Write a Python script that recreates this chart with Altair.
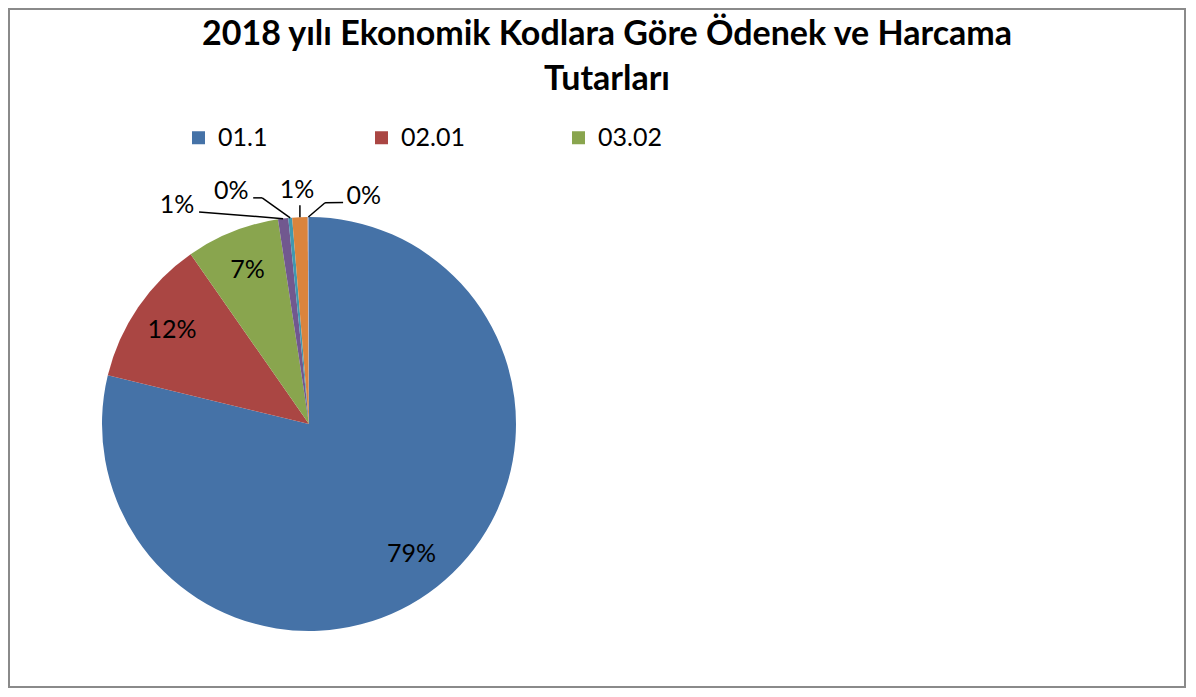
import altair as alt
import pandas as pd

# ---- data ----
codes = ["01.1", "02.01", "03.02", "03.03", "03.05", "03.07", "03.08"]
shares = [78.9, 11.55, 7.3, 0.8, 0.3, 1.2, 0.1]
colors = ["#4572A7", "#AA4643", "#89A54E", "#71588F", "#4198AF", "#DB843D", "#93A9CF"]
legend_codes = ["01.1", "02.01", "03.02"]
title_lines = ["2018 yılı Ekonomik Kodlara Göre Ödenek ve Harcama", "Tutarları"]

df = pd.DataFrame({"code": codes, "value": shares, "idx": list(range(len(codes)))})

# ---- layout / style ----
W, H = 1176, 678
CX, CY, R = 300, 415, 207
FONT = "Lato"
LFS = 25

base = alt.Chart(df).transform_joinaggregate(
    total="sum(value)"
).transform_window(
    cum="sum(value)", sort=[alt.SortField("idx")], frame=[None, 0]
).transform_calculate(
    pct="datum.value / datum.total",
    mid="(datum.cum - datum.value / 2) / datum.total * 2 * PI",
).transform_calculate(
    ex=f"{CX} + {R} * sin(datum.mid)",
    ey=f"{CY} - {R} * cos(datum.mid)",
)

theta = alt.Theta("value:Q", stack=True)
order = alt.Order("idx:Q", sort="ascending")

pie = base.mark_arc(radius=R, stroke=None).encode(
    theta=theta,
    order=order,
    x=alt.value(CX),
    y=alt.value(CY),
    color=alt.Color(
        "code:N",
        scale=alt.Scale(domain=codes, range=colors),
        legend=alt.Legend(
            values=legend_codes,
            orient="none",
            legendX=177,
            legendY=116,
            direction="horizontal",
            columns=3,
            columnPadding=101,
            title=None,
            symbolType="square",
            symbolSize=169,
            symbolStrokeWidth=0,
            labelFont=FONT,
            labelFontSize=LFS,
            labelColor="#000000",
            labelOffset=7,
        ),
    ),
)

inside = base.transform_filter("datum.idx < 3").mark_text(
    radius=166, font=FONT, fontSize=LFS, color="#000000", baseline="middle", align="center"
).encode(
    theta=theta,
    order=order,
    x=alt.value(CX),
    y=alt.value(CY),
    text=alt.Text("pct:Q", format=".0%"),
)

# leader-line geometry for the thin slices (offsets from slice edge, in px)
leaders = {
    3: dict(a=(-84, -6.6), b=(-84, -6.6), l=(-106, -13.5)),
    4: dict(a=(-28, -20), b=(-37, -20), l=(-59, -26.5)),
    5: dict(a=(0, -12), b=(0, -12), l=(-3, -27)),
    6: dict(a=(16.7, -14.2), b=(34.7, -14.5), l=(55.5, -21.5)),
}

layers = [pie, inside]
for i, g in leaders.items():
    sub = base.transform_filter(f"datum.idx == {i}").transform_calculate(
        ax=f"datum.ex + {g['a'][0]}", ay=f"datum.ey + {g['a'][1]}",
        bx=f"datum.ex + {g['b'][0]}", by=f"datum.ey + {g['b'][1]}",
        lx=f"datum.ex + {g['l'][0]}", ly=f"datum.ey + {g['l'][1]}",
    )
    seg1 = sub.mark_rule(color="#000000", strokeWidth=1.5).encode(
        x=alt.X("ex:Q", scale=None, axis=None), y=alt.Y("ey:Q", scale=None, axis=None),
        x2="ax:Q", y2="ay:Q",
    )
    seg2 = sub.mark_rule(color="#000000", strokeWidth=1.5).encode(
        x=alt.X("ax:Q", scale=None, axis=None), y=alt.Y("ay:Q", scale=None, axis=None),
        x2="bx:Q", y2="by:Q",
    )
    lab = sub.mark_text(font=FONT, fontSize=LFS, color="#000000", baseline="middle", align="center").encode(
        x=alt.X("lx:Q", scale=None, axis=None), y=alt.Y("ly:Q", scale=None, axis=None),
        text=alt.Text("pct:Q", format=".0%"),
    )
    layers += [seg1, seg2, lab]

title = alt.Chart(pd.DataFrame({"t": [0]})).mark_text(
    text=title_lines, font=FONT, fontSize=34, fontWeight="bold", color="#000000",
    align="center", baseline="alphabetic", lineHeight=45,
).encode(x=alt.value(598), y=alt.value(36))

layers.append(title)

chart = alt.layer(*layers).properties(
    width=W, height=H, padding=1, autosize=alt.AutoSizeParams(type="none"),
    background="#ffffff",
).configure_view(stroke="#8a8a8a", strokeWidth=2)

chart.save("out.html", embed_options={"renderer": "svg", "actions": False})
